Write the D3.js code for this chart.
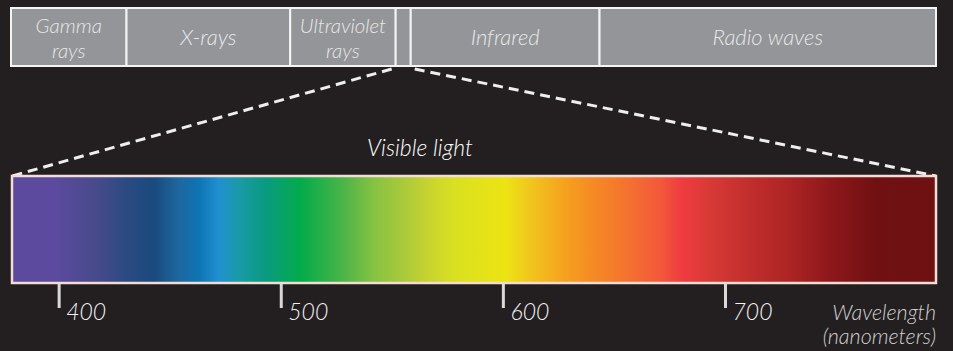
<!DOCTYPE html>
<html><head><meta charset="utf-8">
<script src="https://cdn.jsdelivr.net/npm/d3@7"></script>
<style>
html,body{margin:0;padding:0;background:#231f20;}
svg{display:block;}
text{font-family:Lato,"Open Sans",sans-serif;font-style:italic;font-weight:300;}
</style></head>
<body>
<svg id="chart" width="953" height="351"></svg>
<script>
// ---- data ----
const bandNames = [["Gamma","rays"],["X-rays"],["Ultraviolet","rays"],[],["Infrared"],["Radio waves"]];
const bandSpans = [115, 163, 105, 15, 188, 335];
const visibleBandIndex = 3;
const stopWavelengths = [379,398,418,430,443,454,463,472,481,493,509,529,542,554,567,578,601,612,626,639,657,671,681,693,711,729,747,768,795];
const stopColors = ["#5b4a9e","#5c4a9f","#464a8a","#2c4a82","#1a4a7e","#1e679e","#0e74b4","#2090d0","#1a9aa8","#0a9a80","#03ab4a","#4fb548","#86c243","#a6c93c","#c8d42f","#d9e021","#ece413","#f0c71d","#f5a51e","#f58d23","#f47030","#f2583a","#ef3b40","#d83a36","#c12e2c","#ad2424","#8e181b","#701012","#6e1112"];
const spectrumDomain = [379, 795];
const tickValues = [400, 500, 600, 700];
const titleText = "Visible light";
const axisTitle = ["Wavelength", "(nanometers)"];

// ---- drawing ----
const svg = d3.select("#chart");

// top band scale
const cum = [0];
bandSpans.forEach(s => cum.push(cum[cum.length-1] + s));
const bx = d3.scaleLinear().domain([0, cum[cum.length-1]]).range([11, 936]);
const topY0 = 8, topY1 = 66;

const cells = svg.append("g").selectAll("g").data(bandSpans).join("g");
cells.append("rect")
  .attr("x", (d,i) => bx(cum[i]))
  .attr("y", topY0)
  .attr("width", (d,i) => bx(cum[i+1]) - bx(cum[i]))
  .attr("height", topY1 - topY0)
  .attr("fill", "#939598")
  .attr("stroke", "#f4f4f4")
  .attr("stroke-width", 2);
cells.each(function(d,i){
  const lines = bandNames[i];
  const cx = (bx(cum[i]) + bx(cum[i+1]))/2;
  const n = lines.length;
  const lh = 25;
  const mid = 45;
  lines.forEach((t,j) => {
    d3.select(this).append("text")
      .attr("x", cx)
      .attr("y", mid + (j - (n-1)/2)*lh)
      .attr("text-anchor","middle")
      .attr("fill","#e8e8e8")
      .attr("font-size", (n > 1) ? 20.5 : 22)
      .text(t);
  });
});

// spectrum
const sx = d3.scaleLinear().domain(spectrumDomain).range([12, 936]);
const specY0 = 176, specY1 = 283;
const defs = svg.append("defs");
const grad = defs.append("linearGradient").attr("id","spec")
  .attr("gradientUnits","userSpaceOnUse")
  .attr("x1", sx(spectrumDomain[0])).attr("x2", sx(spectrumDomain[1]))
  .attr("y1", 0).attr("y2", 0);
grad.selectAll("stop").data(stopWavelengths).join("stop")
  .attr("offset", d => (sx(d) - sx(spectrumDomain[0]))/(sx(spectrumDomain[1]) - sx(spectrumDomain[0])))
  .attr("stop-color", (d,i) => stopColors[i]);

// dashed zoom lines
const vx0 = bx(cum[visibleBandIndex]) - 4, vx1 = bx(cum[visibleBandIndex+1]) + 4;
const dashG = svg.append("g").attr("stroke","#eeeeee").attr("stroke-width",3)
  .attr("stroke-dasharray","10,6").attr("fill","none");
dashG.append("line").attr("x1", vx0).attr("y1", topY1+3).attr("x2", sx(spectrumDomain[0])).attr("y2", specY0);
dashG.append("line").attr("x1", vx1).attr("y1", topY1+3).attr("x2", sx(spectrumDomain[1])).attr("y2", specY0);

svg.append("rect")
  .attr("x", sx(spectrumDomain[0]))
  .attr("y", specY0)
  .attr("width", sx(spectrumDomain[1]) - sx(spectrumDomain[0]))
  .attr("height", specY1 - specY0)
  .attr("fill","url(#spec)")
  .attr("stroke","#f3dcd4")
  .attr("stroke-width",2.5);

svg.append("text")
  .attr("x", 420).attr("y", 156)
  .attr("text-anchor","middle")
  .attr("fill","#ffffff")
  .attr("font-size", 23)
  .text(titleText);

// axis
const axis = d3.axisBottom(sx).tickValues(tickValues).tickSize(24).tickPadding(0).tickFormat(d3.format("d"));
const ag = svg.append("g").attr("transform", `translate(0,${specY1+1})`).call(axis);
ag.select(".domain").remove();
ag.selectAll(".tick line").attr("stroke","#d9d9d9").attr("stroke-width",3);
ag.selectAll(".tick text")
  .attr("fill","#f2f2f2")
  .attr("font-size", 23)
  .attr("text-anchor","start")
  .attr("x", 7)
  .attr("y", 0)
  .attr("dy", "1.55em");

const at = svg.append("g").attr("fill","#cfcfcf").attr("font-size",21.5).attr("text-anchor","end");
at.append("text").attr("x", 936).attr("y", 320).text(axisTitle[0]);
at.append("text").attr("x", 936).attr("y", 344).text(axisTitle[1]);
</script>
</body></html>
